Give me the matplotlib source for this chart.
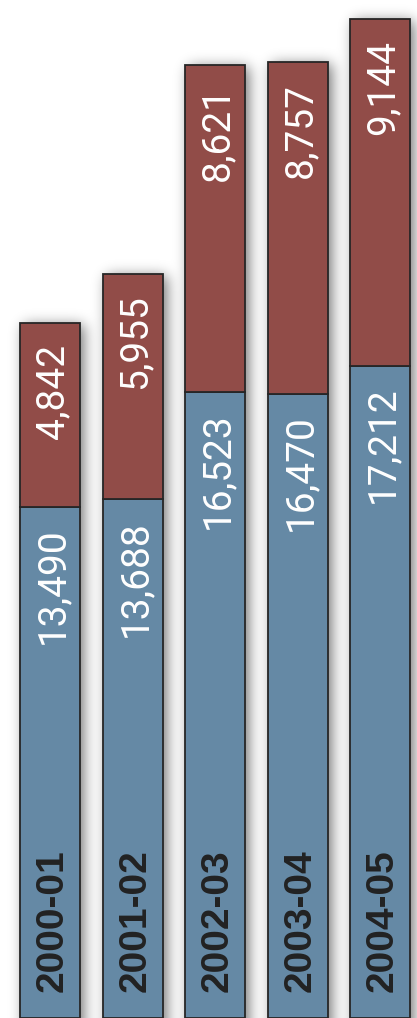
import numpy as np
import matplotlib
matplotlib.use("Agg")
import matplotlib.pyplot as plt
from matplotlib import font_manager

# ---- data ----
categories = ["2000-01", "2001-02", "2002-03", "2003-04", "2004-05"]
series_blue = [13490, 13688, 16523, 16470, 17212]
series_red = [4842, 5955, 8621, 8757, 9144]

# ---- style ----
BLUE = "#6589a5"
RED = "#914c48"
EDGE = "#262626"

names = {f.name for f in font_manager.fontManager.ttflist}
def pick(cands):
    return [f for f in cands if f in names] or ["DejaVu Sans"]
num_font = pick(["Roboto", "Liberation Sans", "DejaVu Sans"])
cat_font = pick(["Liberation Sans Narrow", "Liberation Sans", "DejaVu Sans"])

W, H = 417, 1018
fig = plt.figure(figsize=(W / 100, H / 100), dpi=100)
ax = fig.add_axes([0, 0, 1, 1])
ax.set_axis_off()

x = np.arange(len(categories))
width = 0.727
XL = (-0.606, 4.448)
YL = (0, 26860)
ax.set_xlim(*XL)
ax.set_ylim(*YL)

blue = np.array(series_blue, dtype=float)
red = np.array(series_red, dtype=float)
total = blue + red

ax.bar(x, blue, width, color=BLUE, edgecolor=EDGE, linewidth=1.3, zorder=3)
ax.bar(x, red, width, bottom=blue, color=RED, edgecolor=EDGE, linewidth=1.3, zorder=3)

# ---- blurred drop shadow computed from the bars' geometry ----
fig.canvas.draw()
mask = np.zeros((H, W))
dx, dy = 4, -2
for xi, t in zip(x, total):
    (x0, y0), (x1, y1) = ax.transData.transform([(xi - width / 2, 0), (xi + width / 2, t)])
    c0, c1 = int(round(x0 + dx)), int(round(x1 + dx))
    r0 = int(round(H - (y1 + dy)))
    mask[max(r0, 0):H, max(c0, 0):min(c1, W)] = 1.0

sigma = 7.0
rad = int(3 * sigma)
k = np.exp(-0.5 * (np.arange(-rad, rad + 1) / sigma) ** 2)
k /= k.sum()
padded = np.pad(mask, rad, mode="edge")
tmp = np.apply_along_axis(lambda v: np.convolve(v, k, mode="valid"), 1, padded)
blur = np.apply_along_axis(lambda v: np.convolve(v, k, mode="valid"), 0, tmp)
rgba = np.zeros((H, W, 4))
rgba[..., 3] = 0.55 * blur
ax.imshow(rgba, extent=(*XL, *YL), aspect="auto",
          origin="upper", zorder=1, interpolation="nearest")
ax.set_xlim(*XL)
ax.set_ylim(*YL)

# ---- labels ----
for xi, b, t in zip(x, blue, total):
    for val, top in ((b, b), (t - b, t)):
        ax.annotate(f"{int(val):,}", (xi, top), xytext=(2, -15), textcoords="offset points",
                    rotation=90, ha="center", va="top", color="white",
                    fontsize=28, fontweight="normal", family=num_font, zorder=5)

for xi, c in zip(x, categories):
    ax.annotate(c, (xi, 0), xytext=(2, 19), textcoords="offset points",
                rotation=90, ha="center", va="bottom", color="#222222",
                fontsize=28, fontweight="bold", family=cat_font, zorder=5)

fig.savefig("out.png", dpi=100)
